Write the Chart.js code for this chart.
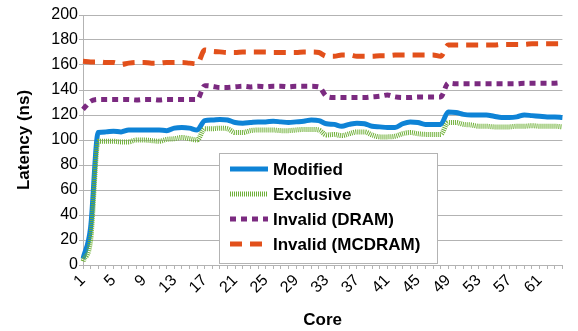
<!DOCTYPE html>
<html><head><meta charset="utf-8">
<script src="https://cdn.jsdelivr.net/npm/chart.js@4/dist/chart.umd.min.js"></script>
<style>html,body{margin:0;padding:0;background:#fff;overflow:hidden;}</style>
</head><body>
<canvas id="c" width="578" height="331"></canvas>
<script>
const cores = ['1','2','3','4','5','6','7','8','9','10','11','12','13','14','15','16',
'17','18','19','20','21','22','23','24','25','26','27','28','29','30','31','32',
'33','34','35','36','37','38','39','40','41','42','43','44','45','46','47','48',
'49','50','51','52','53','54','55','56','57','58','59','60','61','62','63','64'];
const tickLabels = ['1','5','9','13','17','21','25','29','33','37','41','45','49','53','57','61'];
const modified = [5,30,106,106.5,107,106.5,108,108,108,108,108,107.5,109.5,110,109.5,108,
115.5,116,116.5,116,114,113.5,114,114.5,114.5,115,114.5,114,114.5,115,116,115.5,
113,112.5,111,112.5,113.5,113,111,110.5,110,110,113,114.5,114,112.5,112.5,112.5,
122.5,122,120.5,120,120,120,119,118,118,118.5,120,119.5,119,118.5,118.5,118];
const exclusive = [3,20,99,99,99,98.5,98.5,100,100,99.5,99,100.5,101,102,101,100,
109,109,109.5,109,106,106,107.5,108,108,108,107.5,107.5,108,108.5,108.5,108,
104,104.5,103.5,105,106.5,106.5,104,102.5,102.5,103,105,106,105,104.5,104.5,104.5,
114,114,112.5,112,111,111,110.5,110.5,110.5,111,111,111.5,111,111,111,110.5];
const invalidDram = [124.5,131,132.5,132.5,132.5,132.5,132.5,132,132.5,132.5,132,132.5,132.5,132.5,132.5,132.5,
143.5,143,142,142,142.5,143,142.5,143,142.5,143,143,142.5,143,143,143,142.5,
135,134,134,134,134,134,134.5,135,136,134.5,134,134,134.5,134.5,134.5,134.5,
145.5,145,145,145,145,145,145,145,145,145,145.5,145.5,145.5,145.5,145.5,146];
const invalidMcdram = [163,162.5,162.5,162,162,160.5,161.5,162,162,161.5,161.5,162,162,162,161.5,161,
172,171,170.5,170,170,170.5,170.5,170.5,170.5,170,170,170,170,170.5,170.5,170,
167,167,168,168,167,167,167,167.5,167.5,168,168,168,168,168,168,167,
176,176,176,176,176,176,176,176.5,176.5,176.5,176.5,177,177,177,177,177];

const FONT = '"Liberation Sans", Arial, sans-serif';

const legendPlugin = {
  id: 'boxLegend',
  afterDraw(chart) {
    const ctx = chart.ctx, ca = chart.chartArea;
    const x0 = ca.left + 136, y0 = ca.top + 138, w = 218, h = 110;
    ctx.save();
    ctx.fillStyle = '#fff';
    ctx.fillRect(x0, y0, w, h);
    ctx.strokeStyle = '#b3b3b3';
    ctx.lineWidth = 1;
    ctx.strokeRect(x0 + 0.5, y0 + 0.5, w, h);
    chart.data.datasets.forEach((ds, i) => {
      const cy = y0 + 16 + i * 25;
      ctx.beginPath();
      ctx.setLineDash(ds.borderDash || []);
      ctx.lineWidth = ds.borderWidth;
      ctx.strokeStyle = ds.borderColor;
      ctx.lineCap = 'butt';
      ctx.moveTo(x0 + 11, cy);
      ctx.lineTo(x0 + 49, cy);
      ctx.stroke();
      ctx.setLineDash([]);
      ctx.fillStyle = '#000';
      ctx.font = 'bold 17px ' + FONT;
      ctx.textBaseline = 'middle';
      ctx.textAlign = 'left';
      ctx.fillText(ds.label, x0 + 54, cy + 1);
    });
    ctx.restore();
  }
};

const common = { pointRadius: 0, borderWidth: 5, cubicInterpolationMode: 'monotone', borderCapStyle: 'butt', borderJoinStyle: 'round', fill: false };

new Chart(document.getElementById('c'), {
  type: 'line',
  data: {
    labels: cores,
    datasets: [
      Object.assign({ label: 'Modified', data: modified, borderColor: '#0e83d6', order: 4 }, common),
      Object.assign({ label: 'Exclusive', data: exclusive, borderColor: '#6fb038', borderDash: [1, 1], order: 3 }, common),
      Object.assign({ label: 'Invalid (DRAM)', data: invalidDram, borderColor: '#7b2a80', borderDash: [6, 5], order: 2 }, common),
      Object.assign({ label: 'Invalid (MCDRAM)', data: invalidMcdram, borderColor: '#e2501b', borderDash: [12, 8], order: 1 }, common)
    ]
  },
  options: {
    responsive: false,
    devicePixelRatio: 1,
    animation: false,
    layout: { padding: { top: 15, right: 1, left: 0, bottom: 0 } },
    plugins: { legend: { display: false }, tooltip: { enabled: false } },
    scales: {
      x: {
        type: 'category',
        offset: false,
        grid: { drawOnChartArea: false, drawTicks: true, tickLength: 4, color: '#b3b3b3' },
        border: { color: '#b3b3b3' },
        ticks: {
          autoSkip: false, maxRotation: 45, minRotation: 45, padding: 2,
          font: { family: FONT, size: 16 }, color: '#000',
          callback: function (v, i) { const l = cores[i]; return tickLabels.includes(l) ? l : ''; }
        },
        title: { display: true, text: 'Core', color: '#000', font: { family: FONT, size: 17, weight: 'bold' }, padding: { top: 0, bottom: 0 } },
        afterFit(s) { s.height = 66; }
      },
      y: {
        min: 0, max: 200,
        grid: { color: '#b3b3b3', tickLength: 4 },
        border: { color: '#b3b3b3' },
        ticks: { stepSize: 20, padding: 1, font: { family: FONT, size: 16 }, color: '#000' },
        title: { display: true, text: 'Latency (ns)', color: '#000', font: { family: FONT, size: 17, weight: 'bold' }, padding: { top: 14, bottom: 0 } },
        afterFit(s) { s.width = 83; }
      }
    }
  },
  plugins: [legendPlugin]
});
</script>
</body></html>
